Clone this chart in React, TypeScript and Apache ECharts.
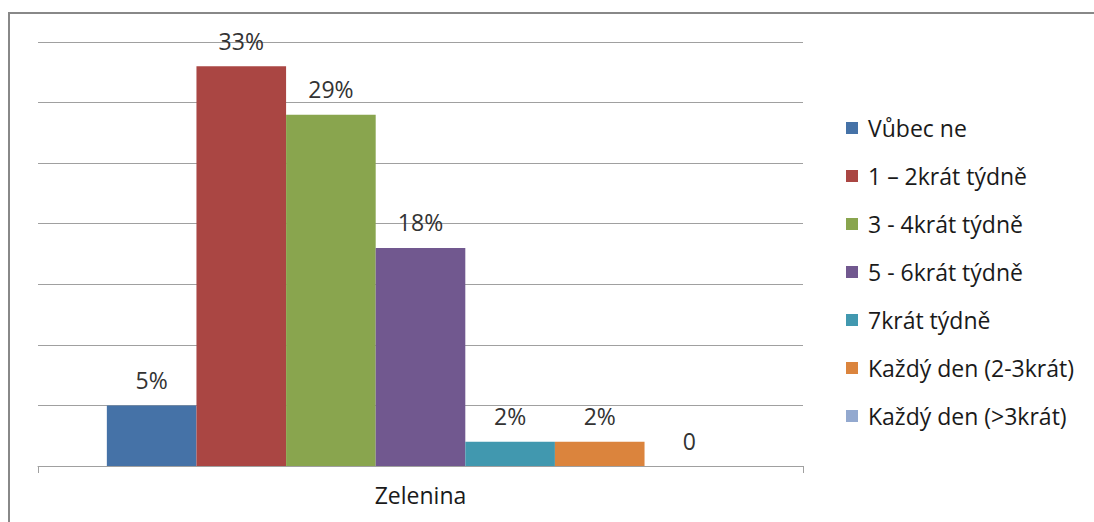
import React, { useEffect, useRef } from "react";
import * as echarts from "echarts";

const categories = ["Zelenina"];
const seriesNames = [
  "Vůbec ne",
  "1 – 2krát týdně",
  "3 - 4krát týdně",
  "5 - 6krát týdně",
  "7krát týdně",
  "Každý den (2-3krát)",
  "Každý den (>3krát)",
];
const seriesValues = [5, 33, 29, 18, 2, 2, 0];
const seriesColors = ["#4572A7", "#AA4643", "#89A54E", "#71588F", "#4198AF", "#DB843D", "#93A9CF"];

const FONT = "'Open Sans', 'Noto Sans', sans-serif";
const FONT_SIZE = 23;

export default function App() {
  const ref = useRef<HTMLDivElement>(null);

  useEffect(() => {
    if (!ref.current) return;
    const chart = echarts.init(ref.current, undefined, { renderer: "svg" });
    chart.setOption({
      animation: false,
      backgroundColor: "#ffffff",
      textStyle: { fontFamily: FONT },
      graphic: [
        {
          type: "rect",
          shape: { x: 9, y: 13, width: 1200, height: 600 },
          style: { fill: "none", stroke: "#888888", lineWidth: 2 },
          silent: true,
        },
      ],
      grid: { left: 38, right: 291, top: 42, bottom: 56, containLabel: false },
      legend: {
        orient: "vertical",
        left: 846,
        top: 116,
        padding: 0,
        itemWidth: 12,
        itemHeight: 12,
        itemGap: 24,
        icon: "rect",
        textStyle: {
          fontFamily: FONT,
          fontSize: FONT_SIZE,
          color: "#1a1a1a",
          lineHeight: 24,
          padding: [0, 0, 0, 5],
        },
        data: seriesNames,
      },
      xAxis: {
        type: "category",
        data: categories,
        axisLine: { show: true, lineStyle: { color: "#a0a0a0", width: 1 } },
        axisTick: { show: true, length: 7, lineStyle: { color: "#a0a0a0" } },
        axisLabel: { fontFamily: FONT, fontSize: FONT_SIZE, color: "#1a1a1a", margin: 17 },
      },
      yAxis: {
        type: "value",
        min: 0,
        max: 35,
        interval: 5,
        axisLine: { show: false },
        axisTick: { show: false },
        axisLabel: { show: false },
        splitLine: { show: true, lineStyle: { color: "#a0a0a0", width: 1 } },
      },
      series: seriesNames.map((name, i) => ({
        name,
        type: "bar",
        data: [seriesValues[i]],
        barGap: "0%",
        barCategoryGap: "18%",
        itemStyle: { color: seriesColors[i] },
        label: {
          show: true,
          position: "top",
          distance: 14,
          fontFamily: FONT,
          fontSize: FONT_SIZE,
          color: "#333333",
          formatter: (p: any) => (p.value === 0 ? "0" : p.value + "%"),
        },
      })),
    });
    return () => chart.dispose();
  }, []);

  return (
    <div
      ref={ref}
      style={{ position: "absolute", left: 0, top: 0, width: 1094, height: 522 }}
    />
  );
}
